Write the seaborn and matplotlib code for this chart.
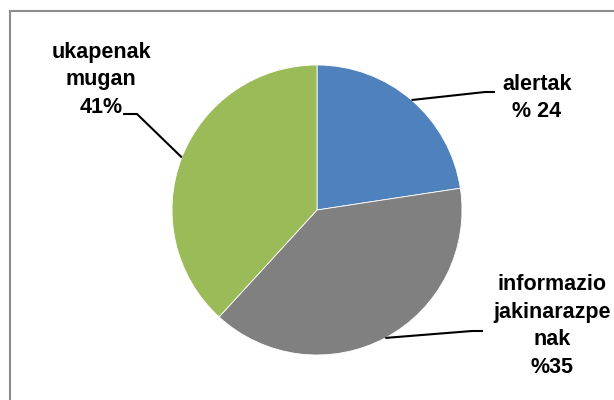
import numpy as np
import matplotlib
matplotlib.use("Agg")
import matplotlib.pyplot as plt
import seaborn as sns
from matplotlib.patches import Rectangle

# ---- data ----
categories = ["alertak", "informazio jakinarazpenak", "ukapenak mugan"]
values = [22.6, 39.2, 38.2]
label_texts = ["alertak\n% 24", "informazio\njakinarazpe\nnak\n%35", "ukapenak\nmugan\n41%"]
colors = ["#4F81BD", "#808080", "#9BBB59"]

sns.set_theme(style="white")
plt.rcParams['font.family'] = ['Liberation Sans', 'DejaVu Sans']

W, H = 614, 400
fig = plt.figure(figsize=(W / 100, H / 100), dpi=100)
fig.patch.set_facecolor("white")

# outer chart border
fig.patches.append(Rectangle((10 / W, -0.1), 1.2, 1 - 11 / H + 0.1, transform=fig.transFigure,
                             fill=False, edgecolor="#8c8c8c", linewidth=1.5, zorder=0))

cx, cy, r = 317, 210, 145
ax = fig.add_axes([(cx - r) / W, 1 - (cy + r) / H, 2 * r / W, 2 * r / H])
ax.set_axis_off()

wedges, _ = ax.pie(values, colors=colors, startangle=90, counterclock=False, radius=1,
                   wedgeprops=dict(edgecolor="white", linewidth=0.6))
ax.set_xlim(-1, 1)
ax.set_ylim(-1, 1)
ax.set_aspect("equal")

def px2d(px, py):
    return ((px - cx) / r, (cy - py) / r)

# text positions (pixel), leader elbows (pixel)
text_pos = [(537, 98), (552, 326), (101, 80)]
elbows = [[(485, 92), (495, 92)], [(472, 331), (483, 331)], [(137, 114), (123, 114)]]

for w, txt, tp, el in zip(wedges, label_texts, text_pos, elbows):
    ang = np.deg2rad((w.theta1 + w.theta2) / 2)
    start = (np.cos(ang), np.sin(ang))
    pts = [start] + [px2d(*p) for p in el]
    xs, ys = zip(*pts)
    ax.plot(xs, ys, color="black", linewidth=1.5, clip_on=False, solid_capstyle="butt")
    tx, ty = px2d(*tp)
    ax.text(tx, ty, txt, ha="center", va="center", fontsize=15.5, fontweight="bold",
            color="black", linespacing=1.42, clip_on=False)

fig.savefig("out.png", dpi=100, facecolor="white")
